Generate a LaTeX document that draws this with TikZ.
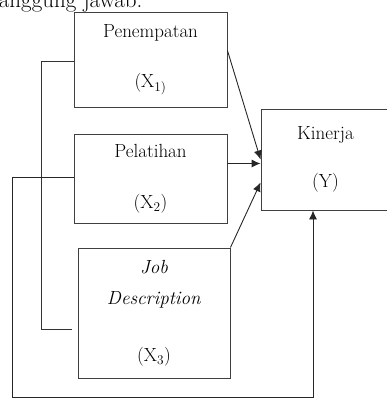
\documentclass[tikz,border=0pt]{standalone}
\usepackage{tikz}
\usetikzlibrary{arrows.meta}

\begin{document}
\begin{tikzpicture}[x=1pt, y=-1pt,
    box/.style={rectangle, draw=black!75, line width=0.9pt, fill=white, inner sep=0pt,
        align=center, font=\fontsize{19}{23}\selectfont},
    arr/.style={-{Latex[length=9pt,width=8pt]}, draw=black!85, line width=0.9pt},
    link/.style={draw=black!80, line width=0.9pt}]
    \useasboundingbox (0,0) rectangle (386,399);

    % Draw nodes
    \node[anchor=base east, font=\fontsize{23}{27}\selectfont] (top) at (146,7) {tanggung jawab.};
    \node[box, minimum width=153pt, minimum height=95pt] (x1) at (150.5,59.5) {Penempatan\\[27pt](X\textsubscript{1)}};
    \node[box, minimum width=153pt, minimum height=89pt] (x2) at (150.5,178.5) {Pelatihan\\[28pt](X\textsubscript{2})};
    \node[box, minimum width=152pt, minimum height=130pt] (x3) at (154,313) {\textit{Job}\\[8pt]\textit{Description}\\[34pt](X\textsubscript{3})};
    \node[box, minimum width=129pt, minimum height=101pt] (y) at (325.5,159.5) {Kinerja\\[25pt](Y)};
    \coordinate (brk) at (72,329);

    % Draw connections
    \draw[arr] ([yshift=9pt]x1.east) -- (y.west);
    \draw[arr] ([yshift=-4pt]y.west -| x2.east) -- ([yshift=-4pt]y.west);
    \draw[arr] (x3.north east) -- ([yshift=-23pt]y.west);
    \draw[link] ([yshift=-2pt]x1.west) -| (41,329) -- (brk);
    \draw[arr] ([yshift=1.5pt]x2.west) -| (12,397) -| ([xshift=-12.5pt]y.south);
\end{tikzpicture}
\end{document}
